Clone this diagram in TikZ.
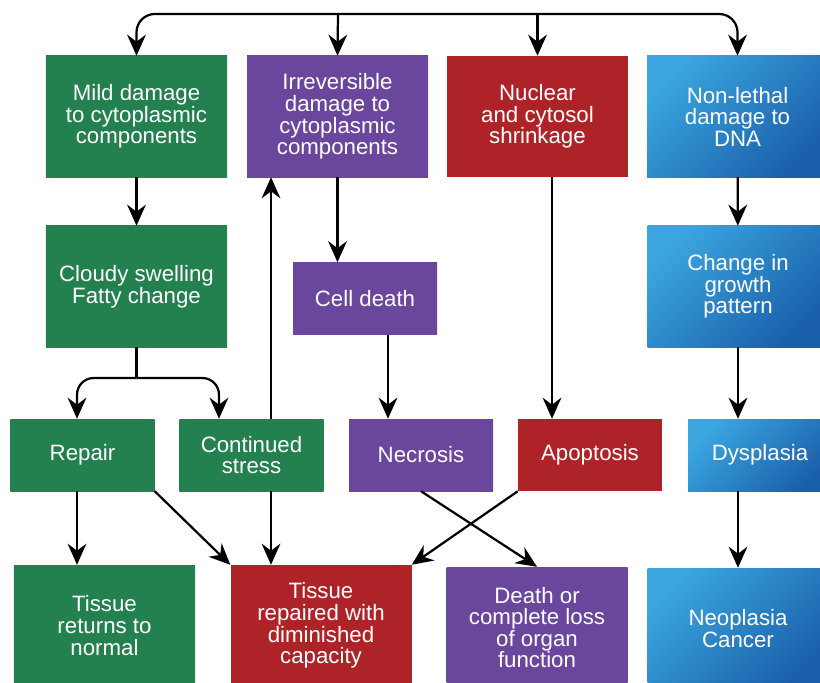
\documentclass[tikz,border=0pt]{standalone}
\usepackage{fontspec}
\setmainfont{Liberation Sans}
\usetikzlibrary{arrows.meta}
\definecolor{grD}{HTML}{09713C}
\definecolor{grL}{HTML}{23804F}
\definecolor{puD}{HTML}{55308D}
\definecolor{puL}{HTML}{6B469D}
\definecolor{rdB}{HTML}{AE2327}
\definecolor{blL}{HTML}{3AA5DF}
\definecolor{blM}{HTML}{0282C8}
\definecolor{blD}{HTML}{1A5FAA}
\tikzset{
  box/.style={inner sep=0pt,align=center,text=white,font=\fontsize{19}{18.4}\selectfont},
  big/.style={box,minimum width=5.43cm,minimum height=3.63cm},
  small/.style={box,minimum width=4.32cm,minimum height=2.16cm},
  gbox/.style={left color=grL,middle color=grD,right color=grL,shading angle=45},
  pbox/.style={left color=puL,middle color=puD,right color=puL,shading angle=45},
  rbox/.style={fill=rdB},
  bbox/.style={left color=blL,middle color=blM,right color=blD,shading angle=45},
  arr/.style={line width=1.9pt,-{Stealth[length=18pt,width=16pt,inset=6pt]}},
  ln/.style={line width=1.9pt}
}

\begin{document}
\begin{tikzpicture}[x=0.03cm,y=-0.03cm]
\clip (0,0) rectangle (820,683);
\node[big,gbox] (mild) at (136.5,116.5) {Mild damage\\to cytoplasmic\\components};
\node[big,pbox] (irrev) at (337.5,116.5) {Irreversible\\damage to\\cytoplasmic\\components};
\node[big,rbox] (nucl) at (537.5,116.5) {Nuclear\\and cytosol\\shrinkage};
\node[big,bbox] (nonleth) at (737.5,116.5) {Non-lethal\\damage to\\DNA};
\node[big,gbox] (cloudy) at (136.5,286.5) {Cloudy swelling\\Fatty change};
\node[small,pbox] (death) at (365,298.5) {Cell death};
\node[big,bbox] (growth) at (738,286.5) {Change in\\growth\\pattern};
\node[small,gbox] (repair) at (82.5,455) {Repair};
\node[small,gbox] (stress) at (251.5,455) {Continued\\stress};
\node[small,pbox] (necro) at (421,455) {Necrosis};
\node[small,rbox] (apop) at (590,455) {Apoptosis};
\node[small,bbox] (dysp) at (760,455) {Dysplasia};
\node[big,gbox] (normal) at (104.5,625.5) {Tissue\\returns to\\normal};
\node[big,rbox] (dimin) at (321,625.5) {Tissue\\repaired with\\diminished\\capacity};
\node[big,pbox] (organ) at (537,627.5) {Death or\\complete loss\\of organ\\function};
\node[big,bbox] (cancer) at (738,628.5) {Neoplasia\\Cancer};

\coordinate (bus) at (338,14);
\coordinate (fork) at (136.5,378);
\coordinate (s1) at ([xshift=0.585cm]stress.north);
\coordinate (s2) at ([xshift=0.585cm]stress.south);
\coordinate (d1) at ([xshift=0.69cm]death.south);
\coordinate (n1) at ([xshift=0.435cm]nucl.south);
\coordinate (r1) at ([xshift=-0.165cm]repair.south);

\draw[arr,rounded corners=0.55cm] (bus) -| (mild.north);
\draw[arr,rounded corners=0.55cm] (bus) -| (nonleth.north);
\draw[arr] (bus) -- (irrev.north);
\draw[arr] (nucl.north |- bus) -- (nucl.north);
\draw[arr] (mild) -- (cloudy);
\draw[ln] (cloudy) -- (fork);
\draw[arr,rounded corners=0.5cm] (fork) -| ([xshift=-0.165cm]repair.north);
\draw[arr,rounded corners=0.5cm] (fork) -| ([xshift=-0.975cm]stress.north);
\draw[arr] (s1) -- (s1 |- irrev.south);
\draw[arr] (s2) -- (s2 |- dimin.north);
\draw[arr] (irrev.south) -- (irrev.south |- death.north);
\draw[arr] (d1) -- (d1 |- necro.north);
\draw[arr] (n1) -- (n1 |- apop.north);
\draw[arr] (r1) -- (r1 |- normal.north);
\draw[arr] (repair.south east) -- (dimin.north west);
\draw[arr] (necro.south) -- (organ.north);
\draw[arr] (apop.south west) -- (dimin.north east);
\draw[arr] (nonleth) -- (growth);
\draw[arr] (growth.south) -- (growth.south |- dysp.north);
\draw[arr] (growth.south |- dysp.south) -- (cancer.north);
\end{tikzpicture}
\end{document}
